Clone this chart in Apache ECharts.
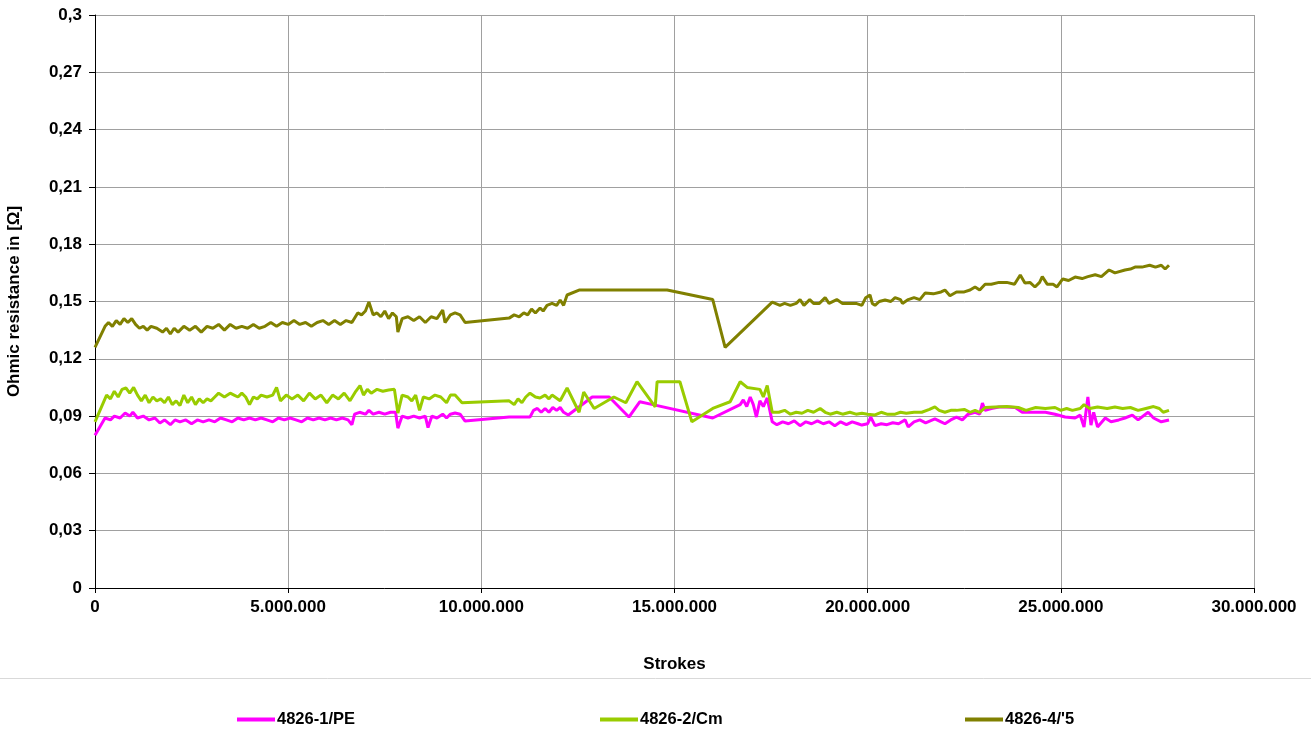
<!DOCTYPE html>
<html>
<head>
<meta charset="utf-8">
<script src="https://cdn.jsdelivr.net/npm/echarts@6/dist/echarts.min.js"></script>
<style>
html,body{margin:0;padding:0;background:#fff;}
#chart{width:1311px;height:753px;}
</style>
</head>
<body>
<div id="chart"></div>
<script>
// x values in millions of strokes, y values in ohm
const seriesNames = ["4826-1/PE", "4826-2/Cm", "4826-4/'5"];
const seriesColors = ["#FF00FF", "#99CC00", "#808000"];

const pe = [
[0,0.080],[0.26,0.089],[0.4,0.088],[0.5,0.090],[0.65,0.089],[0.78,0.0916],[0.9,0.090],[0.98,0.092],[1.1,0.089],[1.25,0.090],
[1.4,0.088],[1.55,0.089],[1.68,0.0864],[1.8,0.088],[1.95,0.0855],[2.07,0.088],[2.2,0.087],[2.35,0.088],[2.5,0.086],[2.65,0.088],
[2.8,0.087],[2.95,0.088],[3.1,0.087],[3.25,0.089],[3.4,0.088],[3.55,0.087],[3.7,0.089],[3.85,0.088],[4.0,0.089],[4.15,0.088],
[4.3,0.089],[4.45,0.088],[4.6,0.087],[4.75,0.089],[4.9,0.088],[5.05,0.089],[5.2,0.088],[5.35,0.087],[5.5,0.089],[5.65,0.088],
[5.8,0.089],[5.95,0.088],[6.1,0.089],[6.25,0.088],[6.4,0.089],[6.55,0.088],[6.65,0.0855],[6.72,0.091],[6.85,0.092],[7.0,0.091],
[7.09,0.093],[7.2,0.091],[7.35,0.092],[7.5,0.091],[7.65,0.092],[7.78,0.092],[7.84,0.0837],[7.95,0.090],[8.1,0.089],[8.25,0.090],
[8.4,0.089],[8.55,0.090],[8.62,0.084],[8.72,0.090],[8.85,0.089],[9.0,0.091],[9.1,0.089],[9.2,0.091],[9.32,0.0916],[9.45,0.091],
[9.58,0.0874],[10.72,0.0895],[10.98,0.0895],[11.26,0.0895],[11.35,0.093],[11.45,0.094],[11.55,0.092],[11.65,0.094],[11.75,0.092],[11.85,0.0945],
[11.95,0.093],[12.04,0.0945],[12.13,0.092],[12.25,0.0906],[12.87,0.100],[13.31,0.100],[13.82,0.0895],[14.1,0.0975],[14.44,0.096],[15.99,0.089],
[16.70,0.096],[16.78,0.0985],[16.87,0.095],[16.96,0.100],[17.04,0.096],[17.12,0.0895],[17.21,0.098],[17.3,0.095],[17.40,0.0995],[17.53,0.087],
[17.65,0.0855],[17.8,0.087],[17.95,0.086],[18.1,0.0875],[18.25,0.085],[18.4,0.087],[18.55,0.086],[18.7,0.0875],[18.85,0.086],[19.0,0.087],
[19.15,0.085],[19.3,0.087],[19.45,0.0855],[19.6,0.087],[19.75,0.086],[19.85,0.0853],[20.0,0.086],[20.08,0.0895],[20.19,0.085],[20.35,0.086],
[20.5,0.0855],[20.65,0.0865],[20.8,0.086],[20.97,0.088],[21.05,0.0843],[21.2,0.087],[21.35,0.088],[21.5,0.0865],[21.74,0.0885],[21.9,0.087],
[22.0,0.086],[22.15,0.088],[22.3,0.0895],[22.45,0.088],[22.6,0.091],[22.78,0.092],[22.9,0.091],[22.97,0.0968],[23.04,0.093],[23.2,0.094],
[23.4,0.0948],[23.6,0.0948],[23.82,0.0945],[24.0,0.092],[24.3,0.092],[24.6,0.092],[24.85,0.091],[25.11,0.0895],[25.37,0.089],[25.5,0.0905],
[25.6,0.0843],[25.7,0.100],[25.78,0.0853],[25.85,0.092],[25.95,0.0843],[26.15,0.089],[26.3,0.087],[26.5,0.088],[26.66,0.089],[26.85,0.0905],
[27.0,0.088],[27.26,0.092],[27.4,0.089],[27.6,0.087],[27.8,0.088]
];

const cm = [
[0,0.087],[0.3,0.101],[0.4,0.099],[0.5,0.103],[0.6,0.100],[0.7,0.104],[0.8,0.1047],[0.9,0.102],[1.0,0.105],[1.1,0.101],
[1.2,0.098],[1.3,0.101],[1.4,0.097],[1.5,0.100],[1.6,0.098],[1.7,0.099],[1.8,0.097],[1.9,0.100],[2.0,0.096],[2.1,0.098],
[2.2,0.0955],[2.3,0.101],[2.4,0.097],[2.5,0.100],[2.6,0.096],[2.7,0.099],[2.8,0.097],[2.9,0.099],[3.0,0.098],[3.1,0.100],
[3.2,0.102],[3.35,0.100],[3.5,0.102],[3.6,0.101],[3.7,0.100],[3.8,0.102],[3.9,0.100],[4.0,0.096],[4.1,0.100],[4.2,0.099],
[4.3,0.101],[4.45,0.100],[4.6,0.101],[4.7,0.105],[4.8,0.098],[4.95,0.101],[5.1,0.099],[5.25,0.101],[5.4,0.098],[5.55,0.102],
[5.7,0.099],[5.85,0.101],[6.0,0.097],[6.15,0.101],[6.3,0.099],[6.45,0.102],[6.6,0.098],[6.75,0.103],[6.86,0.106],[6.95,0.101],
[7.05,0.104],[7.15,0.102],[7.3,0.104],[7.45,0.103],[7.6,0.1037],[7.75,0.104],[7.84,0.0916],[7.95,0.101],[8.1,0.100],[8.2,0.098],
[8.3,0.101],[8.4,0.093],[8.5,0.100],[8.65,0.099],[8.8,0.101],[8.95,0.100],[9.1,0.097],[9.2,0.101],[9.32,0.101],[9.5,0.097],
[10.72,0.098],[10.85,0.096],[10.95,0.099],[11.05,0.097],[11.15,0.100],[11.26,0.102],[11.4,0.100],[11.52,0.0995],[11.65,0.101],[11.75,0.099],
[11.83,0.101],[12.04,0.098],[12.22,0.1047],[12.53,0.092],[12.65,0.1026],[12.92,0.094],[13.43,0.100],[13.74,0.097],[14.03,0.108],[14.5,0.0948],
[14.55,0.108],[15.14,0.108],[15.45,0.087],[15.99,0.094],[16.44,0.0975],[16.70,0.108],[16.88,0.105],[17.21,0.104],[17.3,0.100],[17.40,0.106],
[17.53,0.092],[17.7,0.092],[17.85,0.093],[18.0,0.091],[18.15,0.092],[18.3,0.0915],[18.45,0.093],[18.6,0.092],[18.77,0.094],[18.9,0.092],
[19.03,0.091],[19.2,0.092],[19.35,0.091],[19.54,0.092],[19.7,0.091],[19.85,0.0915],[20.0,0.091],[20.19,0.0906],[20.35,0.092],[20.5,0.091],
[20.71,0.091],[20.85,0.092],[21.0,0.0915],[21.2,0.092],[21.4,0.092],[21.6,0.0935],[21.74,0.0948],[21.85,0.093],[22.0,0.092],[22.15,0.093],
[22.3,0.093],[22.5,0.0935],[22.65,0.092],[22.78,0.093],[22.9,0.092],[23.04,0.0945],[23.3,0.0948],[23.6,0.095],[23.9,0.0945],[24.1,0.093],
[24.35,0.0945],[24.6,0.094],[24.85,0.0945],[25.0,0.093],[25.15,0.094],[25.3,0.093],[25.5,0.094],[25.6,0.096],[25.75,0.094],[25.95,0.0948],
[26.2,0.094],[26.4,0.0948],[26.6,0.094],[26.8,0.0945],[27.0,0.093],[27.2,0.094],[27.4,0.095],[27.55,0.094],[27.65,0.092],[27.8,0.093]
];

const p5 = [
[0,0.126],[0.26,0.137],[0.35,0.139],[0.45,0.137],[0.55,0.140],[0.65,0.138],[0.75,0.141],[0.85,0.139],[0.95,0.141],[1.05,0.138],
[1.15,0.136],[1.25,0.137],[1.35,0.135],[1.45,0.137],[1.6,0.136],[1.75,0.134],[1.85,0.136],[1.95,0.133],[2.05,0.136],[2.15,0.134],
[2.3,0.137],[2.45,0.135],[2.6,0.137],[2.75,0.134],[2.9,0.137],[3.05,0.136],[3.2,0.138],[3.35,0.135],[3.5,0.138],[3.65,0.136],
[3.8,0.137],[3.95,0.136],[4.1,0.138],[4.25,0.136],[4.4,0.137],[4.55,0.139],[4.7,0.137],[4.85,0.139],[5.0,0.138],[5.15,0.140],
[5.3,0.138],[5.45,0.139],[5.6,0.137],[5.75,0.139],[5.9,0.140],[6.05,0.138],[6.2,0.140],[6.35,0.138],[6.5,0.140],[6.65,0.139],
[6.8,0.144],[6.9,0.143],[7.0,0.145],[7.09,0.1497],[7.2,0.143],[7.3,0.144],[7.4,0.142],[7.5,0.145],[7.6,0.141],[7.7,0.144],
[7.8,0.142],[7.84,0.134],[7.95,0.141],[8.1,0.142],[8.25,0.140],[8.4,0.142],[8.55,0.139],[8.7,0.142],[8.85,0.141],[9.0,0.1455],
[9.06,0.139],[9.2,0.143],[9.32,0.144],[9.45,0.143],[9.58,0.139],[10.72,0.1413],[10.85,0.143],[10.98,0.142],[11.1,0.144],[11.2,0.143],
[11.3,0.146],[11.4,0.144],[11.52,0.1466],[11.6,0.145],[11.7,0.148],[11.83,0.149],[11.95,0.148],[12.04,0.1508],[12.13,0.148],[12.22,0.1534],
[12.53,0.156],[14.81,0.156],[15.99,0.151],[16.31,0.126],[17.53,0.1497],[17.73,0.148],[17.85,0.149],[18.0,0.148],[18.15,0.149],[18.25,0.151],
[18.35,0.148],[18.5,0.151],[18.6,0.149],[18.75,0.149],[18.9,0.152],[19.0,0.149],[19.2,0.151],[19.35,0.149],[19.54,0.149],[19.7,0.149],
[19.85,0.148],[19.95,0.152],[20.06,0.1534],[20.12,0.149],[20.19,0.148],[20.3,0.150],[20.45,0.1508],[20.6,0.150],[20.71,0.152],[20.85,0.151],
[20.9,0.149],[21.05,0.151],[21.2,0.152],[21.35,0.151],[21.49,0.1545],[21.7,0.154],[21.9,0.155],[22.0,0.156],[22.13,0.153],[22.3,0.155],
[22.5,0.155],[22.65,0.156],[22.78,0.1576],[22.9,0.156],[23.04,0.159],[23.2,0.159],[23.4,0.160],[23.6,0.160],[23.8,0.159],[23.95,0.1639],
[24.07,0.1597],[24.2,0.160],[24.33,0.1576],[24.45,0.160],[24.52,0.163],[24.65,0.159],[24.8,0.159],[24.9,0.1576],[25.05,0.1618],[25.2,0.161],
[25.37,0.1628],[25.55,0.162],[25.7,0.163],[25.89,0.164],[26.05,0.163],[26.25,0.1665],[26.4,0.165],[26.66,0.1665],[26.8,0.167],[26.92,0.168],
[27.1,0.168],[27.3,0.169],[27.45,0.168],[27.6,0.169],[27.7,0.167],[27.8,0.169]
];

const seriesData = [pe, cm, p5];

const FONT = "'Liberation Sans', Arial, sans-serif";
const chart = echarts.init(document.getElementById('chart'), null, {renderer: 'canvas'});

function fmtX(v) {
  const n = Math.round(v * 1000000);
  return String(n).replace(/\B(?=(\d{3})+(?!\d))/g, '.');
}
function fmtY(v) {
  return String(+v.toFixed(2)).replace('.', ',');
}

const legendLefts = [232, 595, 960];

chart.setOption({
  animation: false,
  backgroundColor: '#ffffff',
  grid: {left: 95, right: 57, top: 15, bottom: 165, containLabel: false, outerBoundsMode: 'none'},
  xAxis: {
    type: 'value', min: 0, max: 30, interval: 5,
    name: 'Strokes', nameLocation: 'middle', nameGap: 68,
    nameTextStyle: {fontFamily: FONT, fontWeight: 'bold', fontSize: 17, color: '#000'},
    axisLine: {onZero: false, lineStyle: {color: '#000', width: 1}},
    axisTick: {show: true, length: 5, lineStyle: {color: '#000'}},
    axisLabel: {formatter: fmtX, fontFamily: FONT, fontWeight: 'bold', fontSize: 17, color: '#000', margin: 11},
    splitLine: {show: true, lineStyle: {color: '#a0a0a0', width: 1}}
  },
  yAxis: {
    type: 'value', min: 0, max: 0.3, interval: 0.03,
    name: 'Ohmic resistance in [Ω]', nameLocation: 'middle', nameGap: 72, nameRotate: 90,
    nameTextStyle: {fontFamily: FONT, fontWeight: 'bold', fontSize: 17, color: '#000'},
    axisLine: {show: true, lineStyle: {color: '#000', width: 1}},
    axisTick: {show: true, length: 6, lineStyle: {color: '#000'}},
    axisLabel: {formatter: fmtY, fontFamily: FONT, fontWeight: 'bold', fontSize: 17, color: '#000', margin: 13},
    splitLine: {show: true, lineStyle: {color: '#a0a0a0', width: 1}}
  },
  legend: seriesNames.map((n, i) => ({
    data: [n], left: legendLefts[i], top: 706, icon: 'rect', itemWidth: 38, itemHeight: 4, itemGap: 2,
    textStyle: {fontFamily: FONT, fontWeight: 'bold', fontSize: 16.5, color: '#000', padding: [0, 0, 0, -3]}
  })),
  graphic: [{
    type: 'line', shape: {x1: 0, y1: 678.5, x2: 1311, y2: 678.5},
    style: {stroke: '#d9d9d9', lineWidth: 1}
  }],
  series: seriesNames.map((n, i) => ({
    name: n, type: 'line', data: seriesData[i], showSymbol: false, symbol: 'none',
    lineStyle: {color: seriesColors[i], width: 3}, itemStyle: {color: seriesColors[i]},
    emphasis: {disabled: true}
  }))
});
</script>
</body>
</html>
